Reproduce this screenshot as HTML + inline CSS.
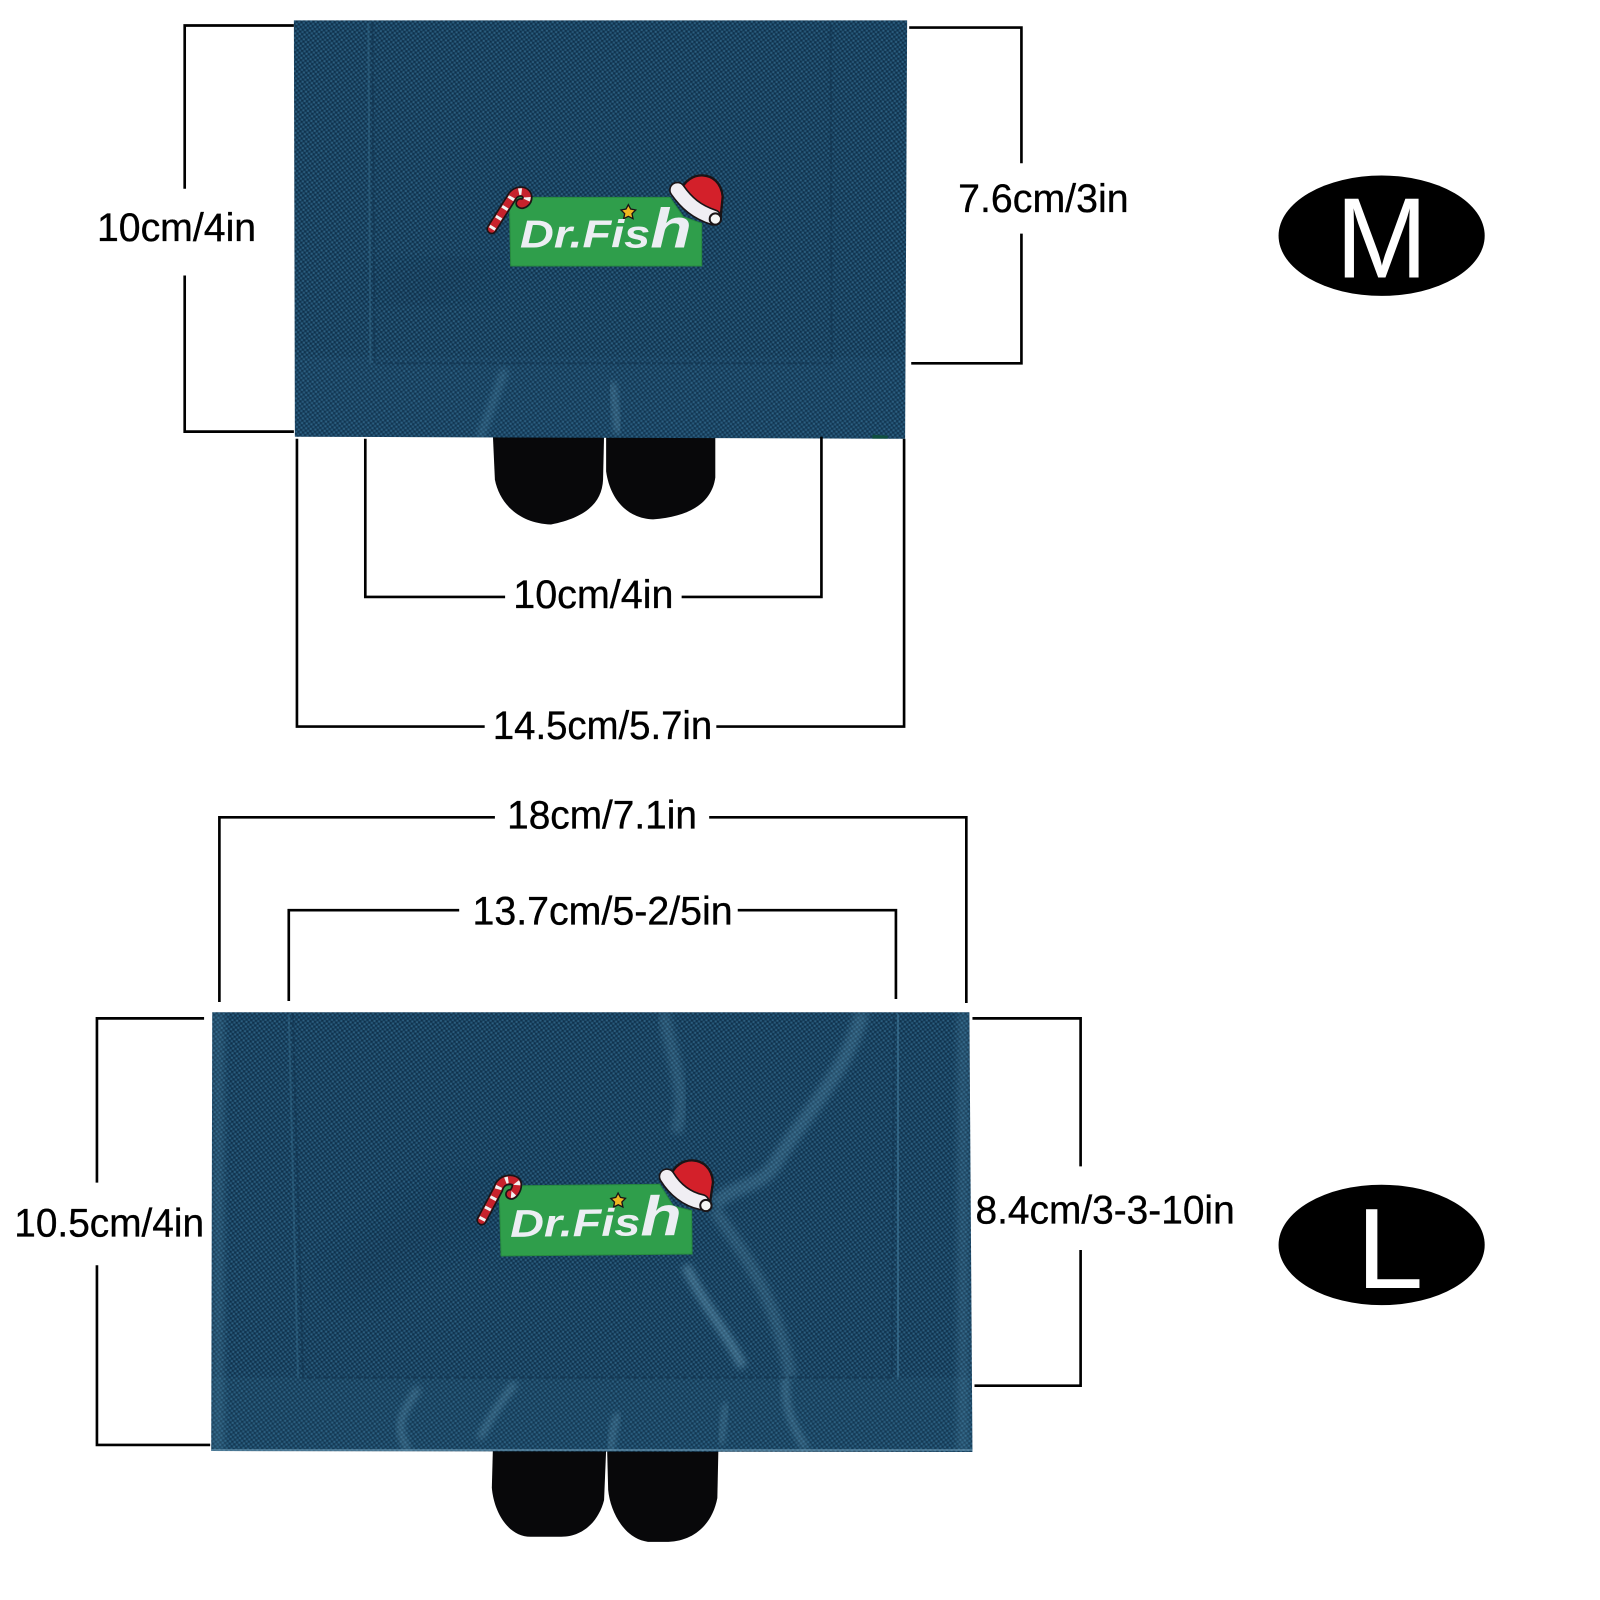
<!DOCTYPE html>
<html><head><meta charset="utf-8"><style>
html,body{margin:0;padding:0;background:#fff}
svg{display:block}
text{font-family:"Liberation Sans",sans-serif}
.d{font-size:39.5px;fill:#000;stroke:#000;stroke-width:.35px}
</style></head><body>
<svg xmlns="http://www.w3.org/2000/svg" width="1600" height="1600" viewBox="0 0 1568 1568">
<defs>
<pattern id="w" width="4.6" height="4.6" patternUnits="userSpaceOnUse" patternTransform="rotate(8)">
<rect width="4.6" height="4.6" fill="#163e5b"/>
<rect x=".4" y=".4" width="1.8" height="1.8" fill="#2c5f80"/>
<rect x="2.7" y="2.7" width="1.8" height="1.8" fill="#28597a"/>
<rect x="2.7" y=".4" width="1.4" height="1.4" fill="#0f2f49"/>
<rect x=".4" y="2.7" width="1.4" height="1.4" fill="#0f2f49"/>
</pattern>
<filter id="b3" x="-30%" y="-30%" width="160%" height="160%"><feGaussianBlur stdDeviation="3.5"/></filter>
<filter id="b6" x="-30%" y="-30%" width="160%" height="160%"><feGaussianBlur stdDeviation="6"/></filter>
<filter id="b14" x="-30%" y="-30%" width="160%" height="160%"><feGaussianBlur stdDeviation="16"/></filter>
<clipPath id="cm"><path d="M288 20H889L887 430L289 428Z"/></clipPath>
<clipPath id="cl"><path d="M208 992H950L953 1423L207 1422Z"/></clipPath>
</defs>
<rect width="1568" height="1568" fill="#fff"/>

<!-- M tabs -->
<path d="M483 426H592L591 470C590 492 575 507 540 514C510 513 490 495 485 470Z" fill="#08080a"/>
<path d="M594 426H701L701 468C698 490 680 506 640 509C615 508 598 490 594 462Z" fill="#08080a"/>
<!-- M wallet -->
<path d="M288 20H889L887 430L289 428Z" fill="url(#w)"/>
<g clip-path="url(#cm)">
<rect x="288" y="350" width="600" height="80" fill="#3a7596" opacity=".07"/>
<path d="M470 430L495 362" stroke="#5f9ab8" stroke-width="7" opacity=".3" filter="url(#b3)" fill="none"/>
<path d="M600 375L606 425" stroke="#7fb4cc" stroke-width="6" opacity=".35" filter="url(#b3)" fill="none"/>
<path d="M380 290L470 260" stroke="#0f2c44" stroke-width="40" opacity=".12" filter="url(#b14)" fill="none"/>
<path d="M830 20V430" stroke="#3d7a9a" stroke-width="24" opacity=".12" filter="url(#b6)"/>
<path d="M880 30V425" stroke="#4a86a6" stroke-width="10" opacity=".2" filter="url(#b3)"/>
<path d="M365 22L367 356H815L814 22" fill="none" stroke="#123450" stroke-width="2" stroke-dasharray="4 2" opacity=".7"/>
<path d="M361 22L363 356" fill="none" stroke="#3c7596" stroke-width="2" opacity=".35"/>
<path d="M855 426L870 427V432H855Z" fill="#0f4f3f"/>
</g>

<!-- L tabs -->
<path d="M483 1421H594L592 1470C587 1490 572 1506 550 1506H520C498 1506 484 1482 482 1458Z" fill="#08080a"/>
<path d="M595 1421H704L703 1468C698 1494 680 1510 655 1511H635C612 1508 598 1482 596 1460Z" fill="#08080a"/>
<!-- L wallet -->
<path d="M208 992H950L953 1423L207 1422Z" fill="url(#w)"/>
<g clip-path="url(#cl)">
<path d="M650 992C660 1040 675 1080 662 1110" stroke="#6aa3c0" stroke-width="12" opacity=".22" fill="none" filter="url(#b3)"/>
<path d="M845 992C830 1050 790 1090 760 1140C745 1165 720 1160 700 1180" stroke="#6aa3c0" stroke-width="14" opacity=".26" fill="none" filter="url(#b3)"/>
<path d="M700 1185C730 1230 760 1270 775 1350" stroke="#76adc8" stroke-width="12" opacity=".2" fill="none" filter="url(#b3)"/>
<path d="M672 1240C690 1280 715 1310 728 1340" stroke="#7fb6d0" stroke-width="9" opacity=".38" fill="none" filter="url(#b3)"/>
<path d="M410 1360C395 1385 385 1395 400 1422" stroke="#7fb6d0" stroke-width="6" opacity=".35" fill="none" filter="url(#b3)"/>
<path d="M505 1355C490 1375 480 1390 470 1410" stroke="#7fb6d0" stroke-width="6" opacity=".35" fill="none" filter="url(#b3)"/>
<path d="M606 1385C600 1400 600 1410 598 1422" stroke="#7fb6d0" stroke-width="6" opacity=".35" fill="none" filter="url(#b3)"/>
<path d="M712 1375C708 1395 708 1405 706 1415" stroke="#7fb6d0" stroke-width="5" opacity=".35" fill="none" filter="url(#b3)"/>
<path d="M770 1350C768 1375 775 1395 790 1420" stroke="#7fb6d0" stroke-width="6" opacity=".35" fill="none" filter="url(#b3)"/>
<path d="M340 1260C400 1200 440 1190 480 1170" stroke="#0f2c44" stroke-width="40" opacity=".12" filter="url(#b14)" fill="none"/>
<rect x="207" y="1350" width="746" height="73" fill="#3a7596" opacity=".1"/>
<path d="M214 992V1422M944 992V1422" stroke="#5f98b6" stroke-width="12" opacity=".22" filter="url(#b3)"/>
<path d="M287 994L297 1350H874L876 994" fill="none" stroke="#123450" stroke-width="2" stroke-dasharray="5 3" opacity=".7"/>
<path d="M283 994L292 1350" fill="none" stroke="#3c7596" stroke-width="2" opacity=".35"/>
<path d="M880 994V1350" fill="none" stroke="#4b88a8" stroke-width="2" opacity=".45"/>
<path d="M207 1421H953" stroke="#7aa8c2" stroke-width="2" opacity=".5"/>
</g>

<!-- Logo M -->
<g transform="translate(460.6 156.8) scale(.3267)">
<path d="M118 112H600L640 170L695 190V318H122Z" fill="#2f9e4b" stroke="#27893f" stroke-width="3"/>
<path d="M65 207L125 112C135 90 170 88 172 112C172 125 158 135 152 130" fill="none" stroke="#1c1416" stroke-width="32" stroke-linecap="round"/>
<path d="M65 207L125 112C135 90 170 88 172 112C172 125 158 135 152 130" fill="none" stroke="#c7222c" stroke-width="22" stroke-linecap="round"/>
<path d="M65 207L125 112C135 90 170 88 172 112C172 125 158 135 152 130" fill="none" stroke="#f2f2f2" stroke-width="20" stroke-dasharray="9 26"/>
<path d="M632 95C650 30 750 25 758 110L752 170L700 175Z" fill="#d3202a" stroke="#1a1416" stroke-width="7"/>
<path d="M622 90C650 130 680 155 730 172" fill="none" stroke="#1a1416" stroke-width="50" stroke-linecap="round"/>
<path d="M622 90C650 130 680 155 730 172" fill="none" stroke="#f0eef3" stroke-width="40" stroke-linecap="round"/>
<circle cx="736" cy="177" r="17" fill="#f6f6f6" stroke="#1a1416" stroke-width="6"/>
<path d="M475 134L482 147L497 150L486 161L489 176L475 169L461 176L464 161L453 150L468 147Z" fill="#f0b821" stroke="#1a1416" stroke-width="4"/>
<text x="150" y="262" font-size="116" font-weight="700" font-style="italic" fill="#eceef3" textLength="515" lengthAdjust="spacingAndGlyphs">Dr.Fis<tspan font-size="168">h</tspan></text>
</g>

<!-- Logo L -->
<g transform="translate(450.8 1127) scale(.3267) rotate(-.6 400 200)">
<path d="M118 105H600L640 170L695 185V315H122Z" fill="#2f9e4b" stroke="#27893f" stroke-width="3"/>
<path d="M65 207L115 115C125 78 170 82 172 100C172 118 158 135 152 130" fill="none" stroke="#1c1416" stroke-width="32" stroke-linecap="round"/>
<path d="M65 207L115 115C125 78 170 82 172 100C172 118 158 135 152 130" fill="none" stroke="#c7222c" stroke-width="22" stroke-linecap="round"/>
<path d="M65 207L115 115C125 78 170 82 172 100C172 118 158 135 152 130" fill="none" stroke="#f2f2f2" stroke-width="20" stroke-dasharray="9 26"/>
<path d="M632 85C650 15 755 15 760 100L750 165L700 170Z" fill="#d3202a" stroke="#1a1416" stroke-width="7"/>
<path d="M622 82C645 120 680 150 725 160" fill="none" stroke="#1a1416" stroke-width="50" stroke-linecap="round"/>
<path d="M622 82C645 120 680 150 725 160" fill="none" stroke="#f0eef3" stroke-width="40" stroke-linecap="round"/>
<circle cx="738" cy="170" r="17" fill="#f6f6f6" stroke="#1a1416" stroke-width="6"/>
<path d="M475 130L482 143L497 146L486 157L489 172L475 165L461 172L464 157L453 146L468 143Z" fill="#f0b821" stroke="#1a1416" stroke-width="4"/>
<text x="150" y="258" font-size="116" font-weight="700" font-style="italic" fill="#eceef3" textLength="515" lengthAdjust="spacingAndGlyphs">Dr.Fis<tspan font-size="168">h</tspan></text>
</g>

<!-- Dimension lines -->
<g fill="none" stroke="#000" stroke-width="2.6">
<path d="M288 25H181V185M181 270V423H288"/>
<path d="M891 27H1001V160M1001 229V356H893"/>
<path d="M358 430V585H495M668 585H805V428"/>
<path d="M291 430V712H475M702 712H886V430"/>
<path d="M215 982V801H485M695 801H947V983"/>
<path d="M283 981V892H450M723 892H878V979"/>
<path d="M200 998H95V1159M95 1240V1416H206"/>
<path d="M953 998H1059V1143M1059 1225V1358H955"/>
</g>

<!-- Labels -->
<text class="d" x="95" y="236" textLength="156" lengthAdjust="spacingAndGlyphs">10cm/4in</text>
<text class="d" x="939" y="208" textLength="167" lengthAdjust="spacingAndGlyphs">7.6cm/3in</text>
<text class="d" x="503" y="596" textLength="157" lengthAdjust="spacingAndGlyphs">10cm/4in</text>
<text class="d" x="483" y="724" textLength="215" lengthAdjust="spacingAndGlyphs">14.5cm/5.7in</text>
<text class="d" x="497" y="812" textLength="186" lengthAdjust="spacingAndGlyphs">18cm/7.1in</text>
<text class="d" x="463" y="906" textLength="255" lengthAdjust="spacingAndGlyphs">13.7cm/5-2/5in</text>
<text class="d" x="14" y="1212" textLength="186" lengthAdjust="spacingAndGlyphs">10.5cm/4in</text>
<text class="d" x="956" y="1199" textLength="254" lengthAdjust="spacingAndGlyphs">8.4cm/3-3-10in</text>

<!-- Size badges -->
<ellipse cx="1354" cy="231" rx="101" ry="59" fill="#000"/>
<text x="1309" y="272" font-size="112" fill="#fff" textLength="90" lengthAdjust="spacingAndGlyphs">M</text>
<ellipse cx="1354" cy="1220" rx="101" ry="59" fill="#000"/>
<text x="1329" y="1262" font-size="112" fill="#fff" textLength="66" lengthAdjust="spacingAndGlyphs">L</text>
</svg>
</body></html>
